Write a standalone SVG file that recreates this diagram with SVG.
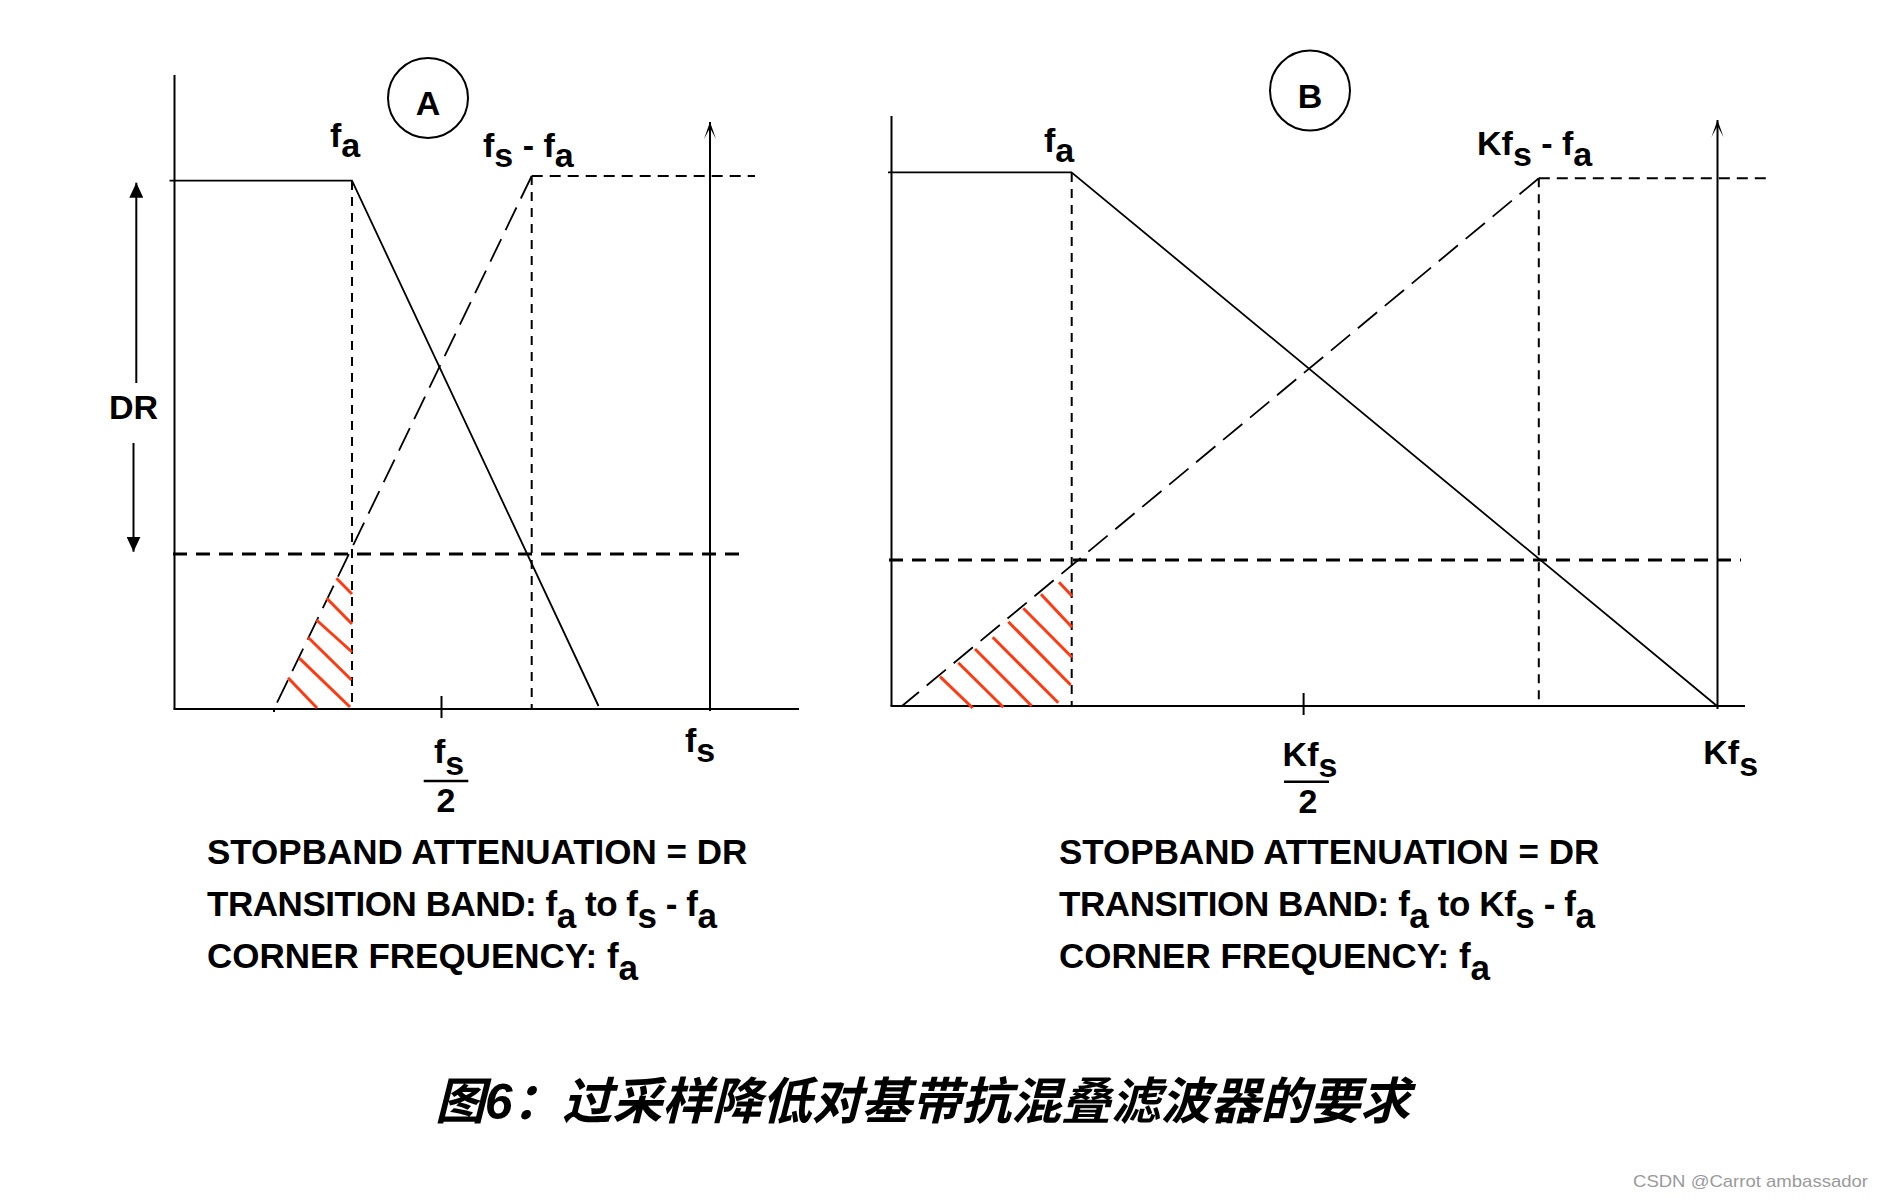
<svg xmlns="http://www.w3.org/2000/svg" width="1886" height="1198" viewBox="0 0 1886 1198">
<style>
.ax{stroke:#000;stroke-width:2;fill:none}
.fl{stroke:#000;stroke-width:1.8;fill:none}
.dv{stroke:#000;stroke-width:2;fill:none;stroke-dasharray:9 7}
.dt{stroke:#000;stroke-width:2;fill:none;stroke-dasharray:11 7}
.df{stroke:#000;stroke-width:2.8;fill:none;stroke-dasharray:14 9}
.da{stroke:#000;stroke-width:1.8;fill:none;stroke-dasharray:25 10}
.ht{stroke:#ff3a10;stroke-width:3;fill:none}
.bar{stroke:#000;stroke-width:2.5}
.lbl{font-family:"Liberation Sans",Arial,sans-serif;font-weight:bold;font-size:34px;fill:#000}
.big{font-family:"Liberation Sans",Arial,sans-serif;font-weight:bold;font-size:35px;fill:#000}
.ttl{font-family:"Liberation Sans","Noto Sans CJK SC",sans-serif;font-weight:bold;font-style:italic;font-size:50px;fill:#000}
.wm{font-family:"Liberation Sans",Arial,sans-serif;font-size:17px;fill:#9a9a9a}
</style>
<defs>
<marker id="tri" viewBox="0 0 15 14" refX="15" refY="7" markerWidth="15" markerHeight="14" markerUnits="userSpaceOnUse" orient="auto">
<path d="M0,0 L15,7 L0,14 Z" fill="#000"/>
</marker>
<marker id="thin" viewBox="0 0 19 14" refX="18" refY="7" markerWidth="19" markerHeight="14" markerUnits="userSpaceOnUse" orient="auto">
<path d="M1,1 L18,7 L1,13 L12,7 Z" fill="#000"/>
</marker>
</defs>
<rect width="1886" height="1198" fill="#fff"/>

<g id="panel-a">
  <g id="a-axes">
    <line class="ax" x1="174.5" y1="75" x2="174.5" y2="709"/>
    <line class="ax" x1="173.5" y1="709" x2="799" y2="709"/>
    <line class="ax" x1="441.5" y1="696" x2="441.5" y2="718"/>
    <line class="ax" x1="274" y1="709" x2="274" y2="712"/>
    <line class="ax" x1="710" y1="711" x2="710" y2="122" marker-end="url(#thin)"/>
  </g>
  <g id="a-connectors">
    <line class="dv" x1="352" y1="181" x2="352" y2="709"/>
    <line class="dv" x1="531.7" y1="176" x2="531.7" y2="709"/>
    <line class="dt" x1="531.7" y1="176" x2="755" y2="176"/>
    <line class="df" x1="173" y1="554" x2="741" y2="554"/>
    <line class="da" x1="531.7" y1="176" x2="274" y2="709"/>
    <polyline class="fl" points="169.5,180.7 352,180.7 598.5,706"/>
  </g>
  <g id="a-hatch">
    <line class="ht" x1="336.4" y1="578.3" x2="352" y2="594"/>
    <line class="ht" x1="326.7" y1="598.3" x2="352" y2="624"/>
    <line class="ht" x1="316.5" y1="620" x2="352" y2="652"/>
    <line class="ht" x1="308" y1="637.3" x2="351.5" y2="680"/>
    <line class="ht" x1="299.5" y1="658.3" x2="350" y2="707"/>
    <line class="ht" x1="288" y1="677.7" x2="317" y2="708"/>
  </g>
  <g id="a-dr">
    <line class="ax" x1="136.3" y1="383" x2="136.3" y2="182.7" marker-end="url(#tri)"/>
    <line class="ax" x1="133.5" y1="443" x2="133.5" y2="551.7" marker-end="url(#tri)"/>
    <text class="lbl" x="109" y="419">DR</text>
  </g>
  <g id="a-circle">
    <circle cx="428" cy="98" r="40" fill="none" stroke="#000" stroke-width="2"/>
    <text class="lbl" x="428" y="115" text-anchor="middle">A</text>
  </g>
  <g id="a-labels">
    <text class="lbl" x="330" y="147">f<tspan dy="10">a</tspan></text>
    <text class="lbl" x="483" y="157">f<tspan dy="10">s</tspan><tspan dy="-10"> - f</tspan><tspan dy="10">a</tspan></text>
    <text class="lbl" x="685" y="752">f<tspan dy="10">s</tspan></text>
    <text class="lbl" x="434" y="763">f<tspan dy="12">s</tspan></text>
    <line class="bar" x1="423.7" y1="781" x2="468.3" y2="781"/>
    <text class="lbl" x="446" y="812" text-anchor="middle">2</text>
  </g>
  <g id="a-notes">
    <text class="big" x="207" y="864">STOPBAND ATTENUATION = DR</text>
    <text class="big" x="207" y="916" textLength="510" lengthAdjust="spacing">TRANSITION BAND: f<tspan dy="12">a</tspan><tspan dy="-12"> to f</tspan><tspan dy="12">s</tspan><tspan dy="-12"> - f</tspan><tspan dy="12">a</tspan></text>
    <text class="big" x="207" y="968">CORNER FREQUENCY: f<tspan dy="12">a</tspan></text>
  </g>
</g>

<g id="panel-b">
  <g id="b-axes">
    <line class="ax" x1="891.5" y1="116" x2="891.5" y2="706"/>
    <line class="ax" x1="890.5" y1="706" x2="1745" y2="706"/>
    <line class="ax" x1="1303.6" y1="693" x2="1303.6" y2="715"/>
    <line class="ax" x1="1717.5" y1="709" x2="1717.5" y2="120" marker-end="url(#thin)"/>
  </g>
  <g id="b-connectors">
    <line class="dv" x1="1071.7" y1="173" x2="1071.7" y2="706"/>
    <line class="dv" x1="1538.8" y1="178.3" x2="1538.8" y2="706"/>
    <line class="dt" x1="1538.8" y1="178.3" x2="1766" y2="178.3"/>
    <line class="df" x1="889" y1="560" x2="1741" y2="560"/>
    <line class="da" x1="1538.8" y1="178.3" x2="902" y2="706"/>
    <polyline class="fl" points="888,172.3 1071.5,172.3 1717,706"/>
  </g>
  <g id="b-hatch">
    <line class="ht" x1="1059" y1="582.3" x2="1072" y2="596"/>
    <line class="ht" x1="1041" y1="594.3" x2="1072" y2="627.3"/>
    <line class="ht" x1="1023.3" y1="608.3" x2="1072" y2="657.3"/>
    <line class="ht" x1="1008.3" y1="621.7" x2="1070.7" y2="685"/>
    <line class="ht" x1="992.7" y1="637.3" x2="1058.3" y2="702.7"/>
    <line class="ht" x1="975" y1="649" x2="1031.7" y2="706"/>
    <line class="ht" x1="958.3" y1="662.7" x2="1003.3" y2="707.3"/>
    <line class="ht" x1="940" y1="676.7" x2="972.7" y2="708"/>
  </g>
  <g id="b-circle">
    <circle cx="1310" cy="90.5" r="40" fill="none" stroke="#000" stroke-width="2"/>
    <text class="lbl" x="1310" y="108" text-anchor="middle">B</text>
  </g>
  <g id="b-labels">
    <text class="lbl" x="1044" y="152">f<tspan dy="10">a</tspan></text>
    <text class="lbl" x="1477" y="155">Kf<tspan dy="11">s</tspan><tspan dy="-11"> - f</tspan><tspan dy="11">a</tspan></text>
    <text class="lbl" x="1282.6" y="766">Kf<tspan dy="11">s</tspan></text>
    <line class="bar" x1="1284" y1="781.7" x2="1329" y2="781.7"/>
    <text class="lbl" x="1308" y="813" text-anchor="middle">2</text>
    <text class="lbl" x="1703.3" y="764.3">Kf<tspan dy="12">s</tspan></text>
  </g>
  <g id="b-notes">
    <text class="big" x="1059" y="864">STOPBAND ATTENUATION = DR</text>
    <text class="big" x="1059" y="916" textLength="536" lengthAdjust="spacing">TRANSITION BAND: f<tspan dy="12">a</tspan><tspan dy="-12"> to Kf</tspan><tspan dy="12">s</tspan><tspan dy="-12"> - f</tspan><tspan dy="12">a</tspan></text>
    <text class="big" x="1059" y="968">CORNER FREQUENCY: f<tspan dy="12">a</tspan></text>
  </g>
</g>

<g id="caption">
  <text class="ttl" x="435" y="1119" textLength="975" lengthAdjust="spacing">图6：过采样降低对基带抗混叠滤波器的要求</text>
</g>
<g id="watermark">
  <text class="wm" x="1633" y="1187" textLength="235" lengthAdjust="spacingAndGlyphs">CSDN @Carrot ambassador</text>
</g>
</svg>
